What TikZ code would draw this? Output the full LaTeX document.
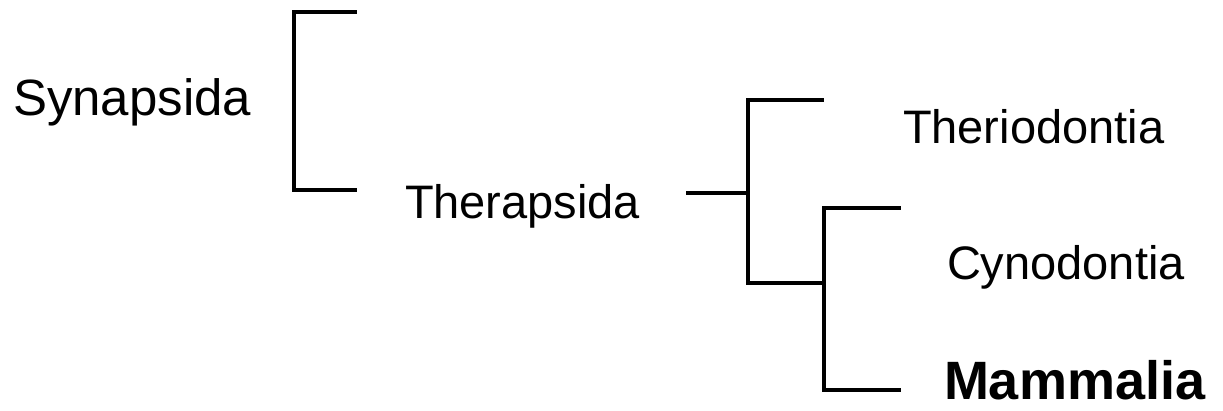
\documentclass[tikz,border=0pt]{standalone}
\usepackage{fontspec}
\setmainfont{Liberation Sans}
\begin{document}
\begin{tikzpicture}[x=1pt,y=-1pt,
  lbl/.style={anchor=base west,inner sep=0pt,outer sep=0pt},
  boldlbl/.style={anchor=base west,inner sep=0pt,outer sep=0pt,font=\fontsize{54}{62}\selectfont\bfseries},
  branch/.style={line width=4.5pt,line join=miter,line cap=rect}]
\useasboundingbox (0,0) rectangle (1223,410);
% labels
\node[lbl,font=\fontsize{51}{60}\selectfont] (syn) at (13,115) {Synapsida};
\node[lbl,font=\fontsize{47}{56}\selectfont] (ther) at (405,218) {Therapsida};
\node[lbl,font=\fontsize{47}{56}\selectfont] (theri) at (903,143) {Theriodontia};
\node[lbl,font=\fontsize{47}{56}\selectfont] (cyn) at (947,279) {Cynodontia};
\node[boldlbl] (mam) at (944,399) {Mammalia};
% bracket coordinates
\coordinate (a1) at (355,12);
\coordinate (a2) at (294,12);
\coordinate (a3) at (294,190);
\coordinate (a4) at (355,190);
\coordinate (s0) at (688,193);
\coordinate (s1) at (748,193);
\coordinate (b1) at (822,100);
\coordinate (b2) at (748,100);
\coordinate (b3) at (748,283);
\coordinate (b4) at (824,283);
\coordinate (c1) at (899,208);
\coordinate (c2) at (824,208);
\coordinate (c3) at (824,390);
\coordinate (c4) at (899,390);
\draw[branch] (a1) -- (a2) -- (a3) -- (a4);
\draw[branch] (s0) -- (s1);
\draw[branch] (b1) -- (b2) -- (b3) -- (b4);
\draw[branch] (c1) -- (c2) -- (c3) -- (c4);
\end{tikzpicture}
\end{document}
